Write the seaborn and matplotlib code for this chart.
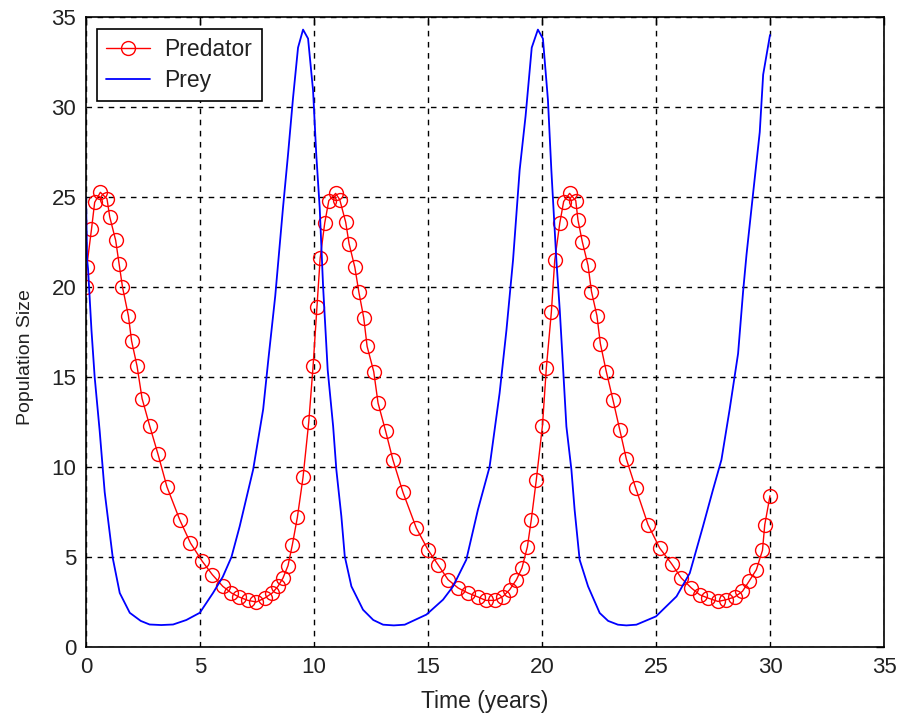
import matplotlib
matplotlib.use("Agg")
import matplotlib.pyplot as plt
import seaborn as sns
import pandas as pd

# Predator markers (time in years, population)
pred_t = [0.0, 0.03, 0.24, 0.38, 0.63, 0.92, 1.04, 1.30, 1.45, 1.60, 1.86, 2.00, 2.24, 2.46,
          2.79, 3.16, 3.55, 4.11, 4.58, 5.10, 5.54, 6.00, 6.38, 6.71, 7.10, 7.47, 7.84, 8.17,
          8.42, 8.64, 8.86, 9.05, 9.27, 9.52, 9.77, 9.96, 10.13, 10.27, 10.47, 10.65, 10.95,
          11.13, 11.39, 11.54, 11.79, 11.97, 12.18, 12.33, 12.62, 12.81, 13.14, 13.46, 13.90,
          14.49, 15.00, 15.44, 15.88, 16.32, 16.75, 17.19, 17.53, 17.93, 18.28, 18.58, 18.88,
          19.12, 19.36, 19.53, 19.75, 20.02, 20.19, 20.41, 20.56, 20.78, 20.95, 21.21, 21.48,
          21.58, 21.77, 22.02, 22.17, 22.41, 22.56, 22.82, 23.11, 23.41, 23.70, 24.11, 24.65,
          25.16, 25.68, 26.11, 26.55, 26.92, 27.28, 27.72, 28.09, 28.45, 28.79, 29.08, 29.40,
          29.67, 29.77, 30.00]
pred_y = [20.0, 21.1, 23.2, 24.7, 25.26, 24.9, 23.9, 22.6, 21.3, 20.0, 18.4, 17.0, 15.6, 13.8,
          12.3, 10.7, 8.9, 7.07, 5.78, 4.76, 4.02, 3.37, 3.0, 2.78, 2.59, 2.5, 2.72, 3.0,
          3.37, 3.83, 4.52, 5.68, 7.2, 9.44, 12.5, 15.6, 18.9, 21.6, 23.55, 24.8, 25.2,
          24.85, 23.6, 22.4, 21.1, 19.7, 18.3, 16.7, 15.3, 13.55, 12.0, 10.4, 8.6,
          6.6, 5.4, 4.57, 3.74, 3.28, 3.0, 2.78, 2.59, 2.59, 2.8, 3.18, 3.74,
          4.39, 5.57, 7.07, 9.28, 12.3, 15.5, 18.6, 21.5, 23.55, 24.75, 25.2, 24.8,
          23.7, 22.5, 21.2, 19.75, 18.4, 16.85, 15.3, 13.74, 12.07, 10.44, 8.83, 6.8,
          5.5, 4.63, 3.83, 3.28, 2.9, 2.72, 2.53, 2.63, 2.78, 3.09, 3.65, 4.29,
          5.37, 6.79, 8.4]

# Prey curve (time in years, population)
prey_t = [0.0, 0.05, 0.09, 0.24, 0.38, 0.60, 0.82, 1.18, 1.48, 1.92, 2.40, 2.79, 3.30, 3.82,
          4.40, 4.99, 5.57, 6.00, 6.38, 6.74, 7.33, 7.77, 8.00, 8.30, 8.64, 8.86, 9.08, 9.30,
          9.52, 9.74, 9.96, 10.10, 10.25, 10.40, 10.60, 10.84, 10.98, 11.20, 11.35, 11.64,
          12.15, 12.60, 13.03, 13.50, 13.98, 14.93, 15.66, 16.10, 16.68, 17.19, 17.70, 18.14,
          18.44, 18.73, 19.02, 19.28, 19.55, 19.82, 20.04, 20.26, 20.41, 20.63, 20.78, 20.92,
          21.07, 21.29, 21.43, 21.65, 22.02, 22.53, 22.90, 23.33, 23.70, 24.14, 25.00, 25.90,
          26.48, 27.06, 27.50, 27.87, 28.23, 28.60, 28.82, 28.97, 29.25, 29.55, 29.70, 30.00]
prey_y = [25.0, 21.5, 21.0, 17.6, 15.0, 12.0, 8.6, 4.9, 3.0, 1.9, 1.45, 1.25, 1.22, 1.25,
          1.5, 1.9, 3.0, 3.9, 5.0, 6.7, 9.85, 13.2, 16.0, 19.5, 24.4, 27.35, 30.5, 33.3,
          34.3, 33.8, 30.9, 27.35, 24.4, 20.0, 15.4, 12.25, 9.85, 7.26, 5.03, 3.37,
          2.07, 1.5, 1.24, 1.2, 1.24, 1.8, 2.63, 3.37, 4.85, 7.63, 10.0, 14.1,
          17.6, 21.5, 26.5, 29.5, 33.3, 34.3, 33.8, 30.4, 26.5, 21.5, 18.7, 15.6,
          12.25, 9.85, 7.63, 4.85, 3.37, 1.89, 1.45, 1.24, 1.2, 1.24, 1.7, 2.81,
          4.1, 6.7, 8.74, 10.4, 13.2, 16.3, 19.75, 21.8, 25.1, 28.6, 31.8, 34.0]

x_ticks = [0, 5, 10, 15, 20, 25, 30, 35]
y_ticks = [0, 5, 10, 15, 20, 25, 30, 35]

sns.set_style("white")
plt.rcParams['font.family'] = ['Liberation Sans', 'DejaVu Sans']

pred_df = pd.DataFrame({"Time": pred_t, "Population": pred_y})
prey_df = pd.DataFrame({"Time": prey_t, "Population": prey_y})

fig = plt.figure(figsize=(8.99, 7.17), dpi=100)
ax = fig.add_axes([86 / 899, 1 - 647 / 717, (884 - 86) / 899, (647 - 17) / 717])

sns.lineplot(data=pred_df, x="Time", y="Population", ax=ax, color="red", linewidth=1.0,
             marker="o", markersize=10, markerfacecolor="none", markeredgecolor="red",
             markeredgewidth=1.0, sort=False, estimator=None, label="Predator")
sns.lineplot(data=prey_df, x="Time", y="Population", ax=ax, color="blue", linewidth=1.3,
             sort=False, estimator=None, label="Prey")

ax.set_xlim(0, 35)
ax.set_ylim(0, 35)
ax.set_xticks(x_ticks)
ax.set_yticks(y_ticks)
ax.grid(True, color="black", linestyle=(0, (4, 4)), linewidth=1.0)
ax.set_axisbelow(True)
for s in ax.spines.values():
    s.set_color("black")
    s.set_linewidth(1.2)
ax.tick_params(direction="in", length=6, width=1.0, top=True, right=True,
               labelsize=16, colors="black", pad=7, labelcolor="#222222")
ax.set_xlabel("Time (years)", fontsize=16.5, labelpad=9, color="#222222")
ax.set_ylabel("Population Size", fontsize=14, color="#222222")
ax.yaxis.set_label_coords(-0.065, 0.46)

leg = ax.legend(loc="upper left", bbox_to_anchor=(11 / 798, 1 - 12 / 630), fontsize=16.5,
                frameon=True, fancybox=False, framealpha=1, edgecolor="black",
                borderaxespad=0, handlelength=1.9, borderpad=0.4, labelspacing=0.35,
                handletextpad=0.65)
leg.get_frame().set_linewidth(1.2)
for t in leg.get_texts():
    t.set_color("#222222")

fig.savefig("out.png", dpi=100)
